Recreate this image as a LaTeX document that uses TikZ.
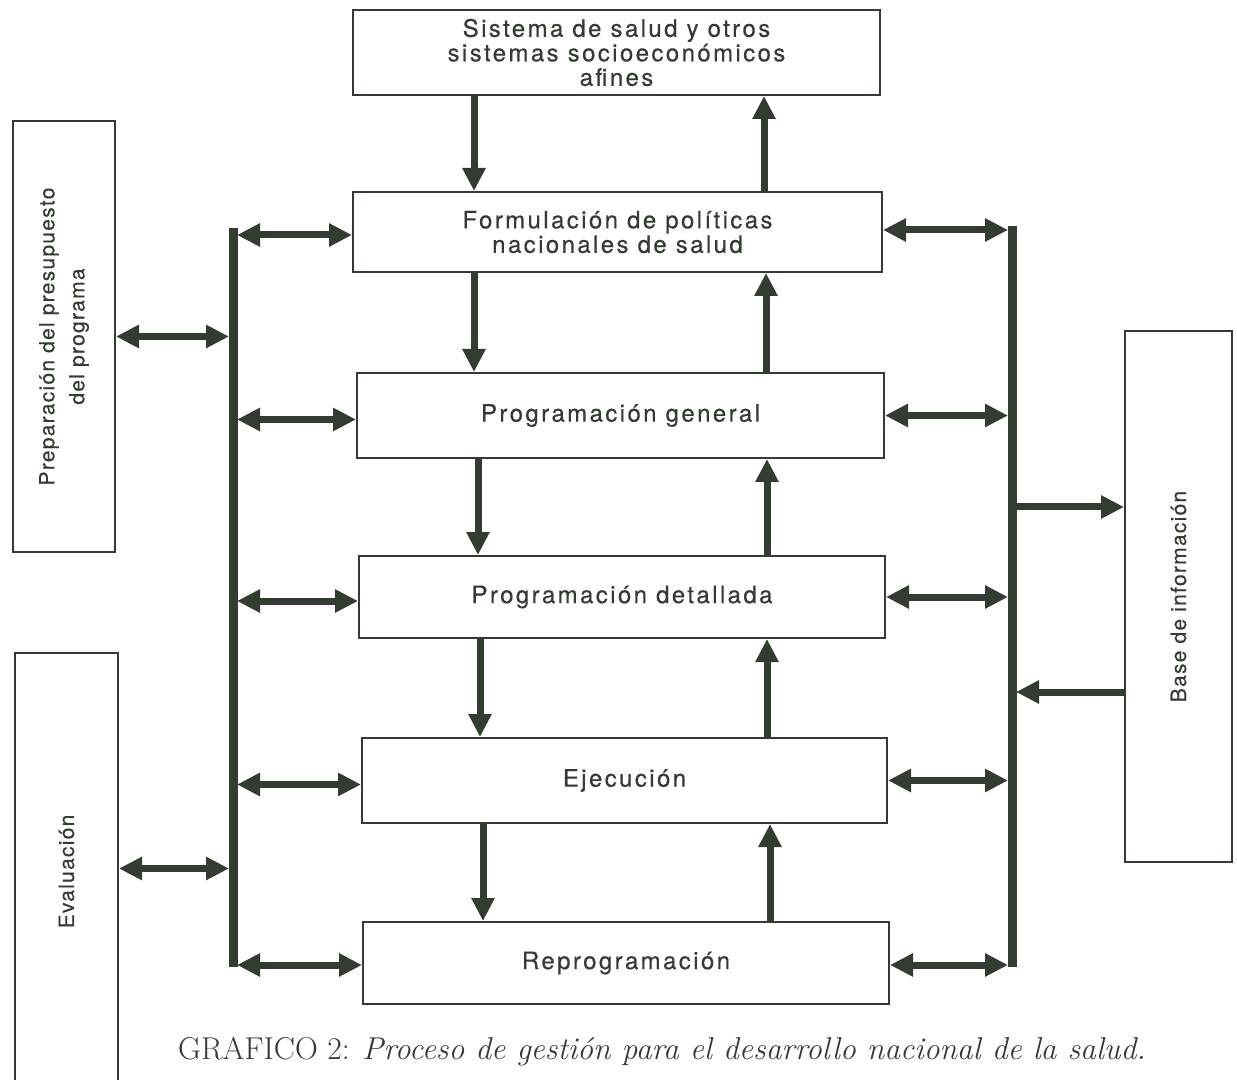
\documentclass[tikz,border=0pt]{standalone}
\usepackage{fontspec}
\setsansfont{TeX Gyre Heros}
\newfontfamily\boxfont[LetterSpace=10,FakeBold=0.4]{TeX Gyre Heros}
\newfontfamily\sidefont[LetterSpace=6,FakeBold=0.4]{TeX Gyre Heros}
\usetikzlibrary{arrows.meta,calc}
\definecolor{ink}{RGB}{50,60,48}
\tikzset{box/.style={draw=ink,line width=1pt,rectangle,inner sep=0pt,align=center,text=ink,
    font=\boxfont\fontsize{12}{12.25}\selectfont},
    side/.style={box,rotate=90,font=\sidefont\fontsize{10.5}{15}\selectfont},
    flow/.style={draw=ink,line width=3.5pt,-{Triangle[length=11.5pt,width=11pt]}},
    both/.style={draw=ink,line width=3.5pt,{Triangle[length=11.5pt,width=11pt]}-{Triangle[length=11.5pt,width=11pt]}},
    bus/.style={draw=ink,line width=4.5pt}}

\begin{document}
\begin{tikzpicture}[x=0.5pt,y=-0.5pt]
\useasboundingbox (0,0) rectangle (1237,1080);

%Main column
\node[box,minimum width=263.5pt,minimum height=42.5pt] (sis) at (616.5,52.5) {Sistema de salud y otros\\sistemas socioeconómicos\\afines};
\node[box,minimum width=264.5pt,minimum height=40pt] (form) at (617.5,232) {Formulación de políticas\\nacionales de salud};
\node[box,minimum width=263.5pt,minimum height=42.5pt] (pgen) at (620.5,415.5) {Programación general};
\node[box,minimum width=263pt,minimum height=41pt] (pdet) at (622,597) {Programación detallada};
\node[box,minimum width=262.5pt,minimum height=42.5pt] (ejec) at (624.5,780.5) {Ejecución};
\node[box,minimum width=263pt,minimum height=41pt] (repr) at (626,963) {Reprogramación};

%Side boxes (rotated: south = right side, north = left side)
\node[side,minimum width=215.5pt,minimum height=51pt] (prep) at (64,336.5) {Preparación del presupuesto\\del programa};
\node[side,minimum width=218.5pt,minimum height=51.5pt] (eval) at (66.5,871.5) {Evaluación};
\node[side,minimum width=265.5pt,minimum height=53.5pt] (base) at (1178.5,596.5) {Base de información};

%Buses
\coordinate (lbt) at (233,228);
\coordinate (lbb) at (233,967);
\coordinate (rbt) at (1012,226);
\coordinate (rbb) at (1012,967);
\draw[bus] (lbt) -- (lbb);
\draw[bus] (rbt) -- (rbb);

%Down arrows
\draw[flow] ([xshift=61pt]sis.south west) -- ([xshift=61pt]sis.south west |- form.north);
\draw[flow] ([xshift=61pt]form.south west) -- ([xshift=61pt]form.south west |- pgen.north);
\draw[flow] ([xshift=61pt]pgen.south west) -- ([xshift=61pt]pgen.south west |- pdet.north);
\draw[flow] ([xshift=61pt]pdet.south west) -- ([xshift=61pt]pdet.south west |- ejec.north);
\draw[flow] ([xshift=61pt]ejec.south west) -- ([xshift=61pt]ejec.south west |- repr.north);

%Up arrows
\draw[flow] ([xshift=206pt]form.north west) -- ([xshift=206pt]form.north west |- sis.south);
\draw[flow] ([xshift=205pt]pgen.north west) -- ([xshift=205pt]pgen.north west |- form.south);
\draw[flow] ([xshift=204.5pt]pdet.north west) -- ([xshift=204.5pt]pdet.north west |- pgen.south);
\draw[flow] ([xshift=203pt]ejec.north west) -- ([xshift=203pt]ejec.north west |- pdet.south);
\draw[flow] ([xshift=204pt]repr.north west) -- ([xshift=204pt]repr.north west |- ejec.south);

%Left bus arrows
\draw[both,shorten <=2pt] ([yshift=-1.5pt]form.west -| lbt) -- ([yshift=-1.5pt]form.west);
\draw[both,shorten <=2pt] ([yshift=-2pt]pgen.west -| lbt) -- ([yshift=-2pt]pgen.west);
\draw[both,shorten <=2pt] ([yshift=-2pt]pdet.west -| lbt) -- ([yshift=-2pt]pdet.west);
\draw[both,shorten <=2pt] ([yshift=-2pt]ejec.west -| lbt) -- ([yshift=-2pt]ejec.west);
\draw[both,shorten <=2pt] ([yshift=-1pt]repr.west -| lbt) -- ([yshift=-1pt]repr.west);
\draw[both,shorten >=2pt] (prep.south) -- (prep.south -| lbt);
\draw[both,shorten >=2pt] ([yshift=1.5pt]eval.south) -- ([yshift=1.5pt]eval.south -| lbt);

%Right bus arrows
\draw[both,shorten >=2pt] ([yshift=1pt]form.east) -- ([yshift=1pt]form.east -| rbt);
\draw[both,shorten >=2pt] (pgen.east) -- (pgen.east -| rbt);
\draw[both,shorten >=2pt] (pdet.east) -- (pdet.east -| rbt);
\draw[both,shorten >=2pt] (ejec.east) -- (ejec.east -| rbt);
\draw[both,shorten >=2pt] ([yshift=-1pt]repr.east) -- ([yshift=-1pt]repr.east -| rbt);
\coordinate (bin) at ($(base.north)+(0,-89.5)$);
\coordinate (bout) at ($(base.north)+(0,95.5)$);
\draw[flow] (bin -| rbt) -- (bin);
\draw[flow,shorten >=2pt] (bout) -- (bout -| rbt);

% Caption
\node[text=ink,font=\fontsize{15.8}{18}\selectfont] (cap) at (662,1052) {GRAFICO 2: \textit{Proceso de gestión para el desarrollo nacional de la salud.}};

\end{tikzpicture}
\end{document}
